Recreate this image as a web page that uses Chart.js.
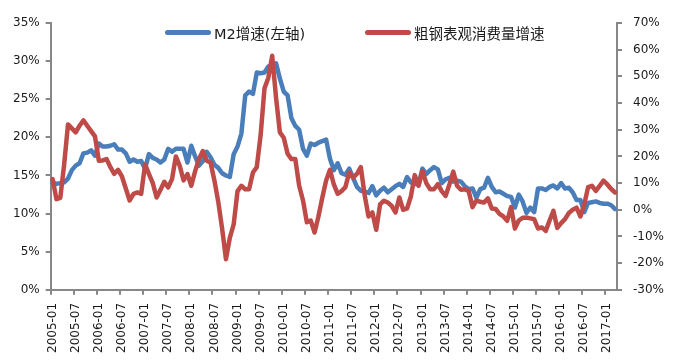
<!DOCTYPE html>
<html>
<head>
<meta charset="utf-8">
<script src="https://cdn.jsdelivr.net/npm/chart.js@4.4.0/dist/chart.umd.min.js"></script>
<style>
    html, body { margin: 0; padding: 0; background: #fff; }
    #wrap { position: relative; width: 689px; height: 363px; }
    .legend {
        position: absolute; top: 23px; height: 18px;
        display: flex; align-items: center; white-space: nowrap;
        font: 14.5px "DejaVu Sans", "Noto Sans CJK SC", sans-serif; color: #1a1a1a;
    }
    .legend i { display: inline-block; width: 46px; height: 5px; border-radius: 2.5px; margin-right: 3px; }
</style>
</head>
<body>
<div id="wrap">
    <canvas id="chart"></canvas>
    <div class="legend" style="left:165px"><i style="background:#4a7ebb"></i>M2增速(左轴)</div>
    <div class="legend" style="left:365px"><i style="background:#be4b48"></i>粗钢表观消费量增速</div>
</div>
<script>
// Monthly categories 2005-01 .. 2017-03
const months = [];
for (let y = 2005; y <= 2017; y++) {
    for (let m = 1; m <= 12; m++) {
        if (y === 2017 && m > 3) break;
        months.push(y + '-' + String(m).padStart(2, '0'));
    }
}

// M2 yoy growth, % (left axis)
const m2Growth = [
    14.1, 13.9, 14.0, 14.1, 14.6, 15.7, 16.3, 16.6, 17.9, 18.0, 18.3, 17.6, // 2005
    19.2, 18.8, 18.8, 18.9, 19.1, 18.4, 18.4, 17.9, 16.8, 17.1, 16.8, 16.9, // 2006
    15.9, 17.8, 17.3, 17.1, 16.7, 17.1, 18.5, 18.1, 18.5, 18.5, 18.5, 16.7, // 2007
    18.9, 17.5, 16.3, 16.9, 18.1, 17.4, 16.4, 16.0, 15.3, 15.0, 14.8, 17.8, // 2008
    18.8, 20.5, 25.5, 26.0, 25.7, 28.5, 28.4, 28.5, 29.3, 29.4, 29.7, 27.7, // 2009
    26.0, 25.5, 22.5, 21.5, 21.0, 18.5, 17.6, 19.2, 19.0, 19.3, 19.5, 19.7, // 2010
    17.2, 15.7, 16.6, 15.3, 15.1, 15.9, 14.7, 13.5, 13.0, 12.9, 12.7, 13.6, // 2011
    12.4, 13.0, 13.4, 12.8, 13.2, 13.6, 13.9, 13.5, 14.8, 14.1, 13.9, 13.8, // 2012
    15.9, 15.2, 15.7, 16.1, 15.8, 14.0, 14.5, 14.7, 14.2, 14.3, 14.2, 13.6, // 2013
    13.2, 13.3, 12.1, 13.2, 13.4, 14.7, 13.5, 12.8, 12.9, 12.6, 12.3, 12.2, // 2014
    10.8, 12.5, 11.6, 10.1, 10.8, 10.2, 13.3, 13.3, 13.1, 13.5, 13.7, 13.3, // 2015
    14.0, 13.3, 13.4, 12.8, 11.8, 11.8, 10.2, 11.4, 11.5, 11.6, 11.4, 11.3, // 2016
    11.3, 11.1, 10.6                                                        // 2017
];

// Apparent crude steel consumption yoy growth, % (right axis)
const steelGrowth = [
    11.5, 4, 4.5, 17, 32, 30.5, 29, 31.5, 33.5, 31.5, 29.5, 27.5,          // 2005
    18.4, 18.5, 19, 16, 13.5, 15, 12.5, 8, 3.5, 6, 6.5, 6,                 // 2006
    17, 13.5, 10, 4.6, 7.5, 10.5, 8.4, 11.5, 20, 16.5, 11, 13.4,           // 2007
    9, 14.5, 19, 22, 18.4, 17.7, 11, 3, -7, -18.5, -10.5, -5.5,            // 2008
    7, 9, 7.7, 7.7, 14, 16, 28, 45.5, 49.5, 57.7, 42, 29,                  // 2009
    27, 21, 19, 19, 9, 3.5, -4.7, -4, -8.5, -2.5, 4.5, 11,                 // 2010
    15, 9.5, 6, 7, 8.5, 14, 12, 13.5, 16, 5.5, -2.5, -1,                   // 2011
    -7.5, 2, 3.4, 2.7, 1.5, -1, 4.6, 0, 0.5, 5, 13, 9,                     // 2012
    14.6, 10, 7.7, 7.7, 9.6, 7, 5.2, 9.5, 14.3, 9, 7.5, 7.7,               // 2013
    7, 1, 3.5, 3, 2.7, 4.3, 0.5, 0.3, -1.5, -2.5, -4.1, 1,                 // 2014
    -7, -4, -3, -2.9, -3.2, -3.5, -7, -6.6, -7.9, -4, -0.4, -6.8,          // 2015
    -5, -3.5, -1.2, 0, 0.8, -2.5, 2, 8.5, 9, 7.1, 9, 10.9,                 // 2016
    9.5, 7.8, 6.5                                                          // 2017
];

const leftTicks = { min: 0, max: 35, step: 5 };
const rightTicks = { min: -30, max: 70, step: 10 };
const labelEvery = 6;

const AXIS_GREY = '#878787';
const TEXT = '#1a1a1a';
const FONT = { family: '"DejaVu Sans", sans-serif', size: 12 };

const ctx = document.getElementById('chart').getContext('2d');
new Chart(ctx, {
    type: 'line',
    data: {
        labels: months,
        datasets: [{
            label: 'M2增速(左轴)',
            data: m2Growth,
            yAxisID: 'y',
            borderColor: '#4a7ebb',
            backgroundColor: '#4a7ebb',
            borderWidth: 4.5,
            order: 1
        }, {
            label: '粗钢表观消费量增速',
            data: steelGrowth,
            yAxisID: 'y1',
            borderColor: '#be4b48',
            backgroundColor: '#be4b48',
            borderWidth: 4.5,
            order: 0
        }]
    },
    options: {
        responsive: true,
        maintainAspectRatio: false,
        animation: false,
        layout: { padding: { left: 7, right: 14, top: 23, bottom: 2 } },
        elements: {
            point: { radius: 0 },
            line: { tension: 0, borderJoinStyle: 'round', borderCapStyle: 'round' }
        },
        plugins: {
            legend: { display: false },
            tooltip: { enabled: false }
        },
        scales: {
            x: {
                offset: true,
                grid: {
                    offset: true,
                    drawOnChartArea: false,
                    tickLength: 5,
                    lineWidth: 2,
                    // tick marks only at the start of every half year
                    color: c => c.index % labelEvery === 0 ? AXIS_GREY : 'rgba(0,0,0,0)'
                },
                border: { color: AXIS_GREY, width: 2 },
                ticks: {
                    autoSkip: false,
                    minRotation: 90,
                    maxRotation: 90,
                    padding: 8,
                    color: TEXT,
                    font: FONT,
                    callback: (v, i) => i % labelEvery === 0 ? months[i] : ''
                }
            },
            y: {
                position: 'left',
                min: leftTicks.min,
                max: leftTicks.max,
                grid: { drawOnChartArea: false, tickLength: 5, lineWidth: 2, color: AXIS_GREY },
                border: { color: AXIS_GREY, width: 2 },
                ticks: {
                    stepSize: leftTicks.step,
                    padding: 6,
                    color: TEXT,
                    font: FONT,
                    callback: v => v + '%'
                }
            },
            y1: {
                position: 'right',
                min: rightTicks.min,
                max: rightTicks.max,
                grid: { drawOnChartArea: false, tickLength: 5, lineWidth: 2, color: AXIS_GREY },
                border: { color: AXIS_GREY, width: 2 },
                ticks: {
                    stepSize: rightTicks.step,
                    padding: 11,
                    color: TEXT,
                    font: FONT,
                    callback: v => v + '%'
                }
            }
        }
    }
});
</script>
</body>
</html>
